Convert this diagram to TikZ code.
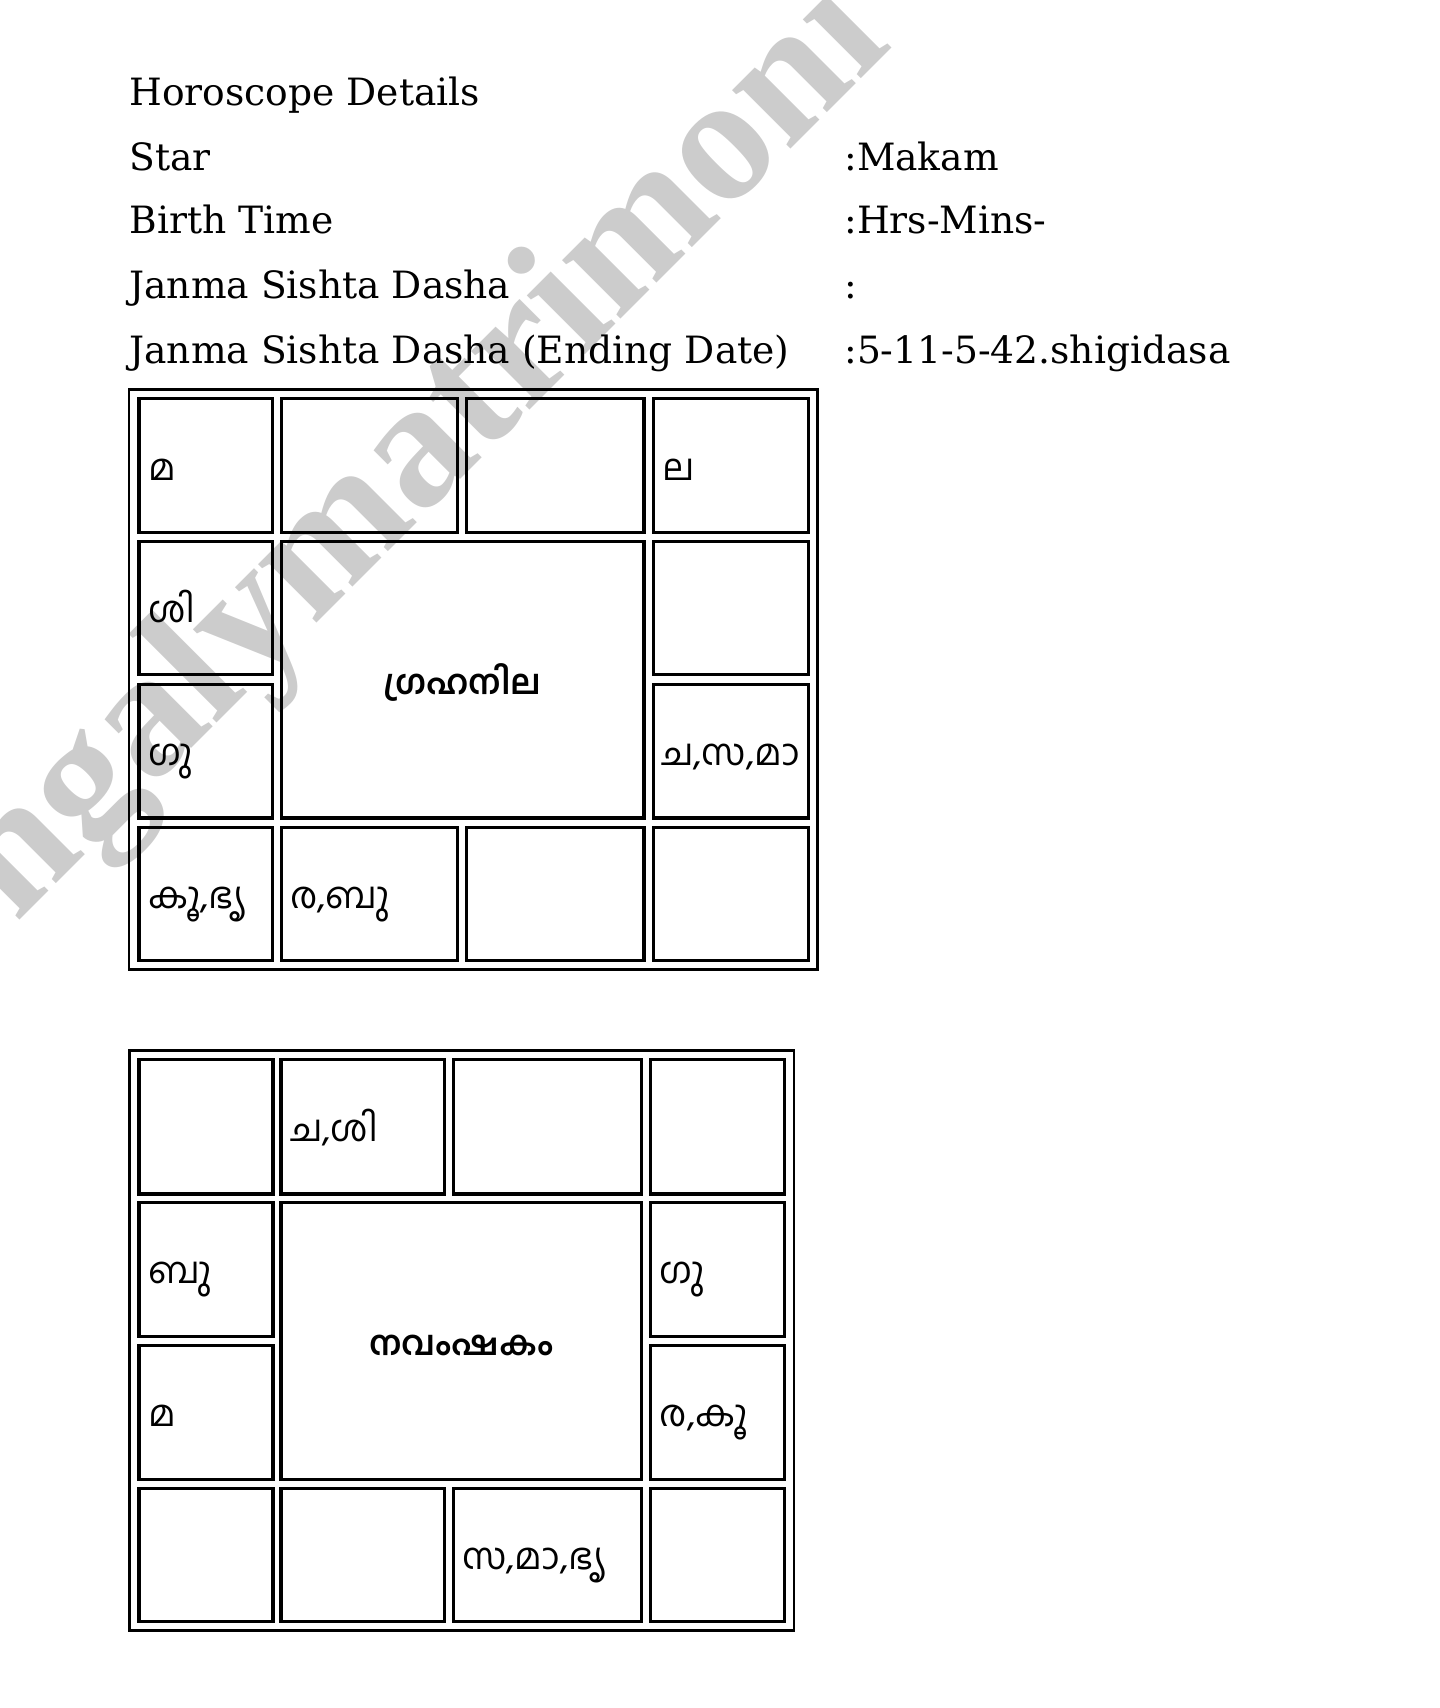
\documentclass[tikz,border=0pt]{standalone}
\usepackage{fontspec}
\setmainfont{DejaVu Serif}
\newfontfamily\malfont[Script=Malayalam]{Hind Kochi}
\newfontfamily\wmfont{Liberation Serif}
\usetikzlibrary{fit}
\definecolor{wmgray}{RGB}{204,204,204}
\tikzset{
  hdr/.style={anchor=base west, inner sep=0pt, font=\fontsize{18.8pt}{22pt}\selectfont},
  mal/.style={anchor=base west, inner sep=0pt, font=\malfont\fontsize{18.3pt}{22pt}\selectfont},
  maltitle/.style={anchor=base, inner sep=0pt, font=\malfont\bfseries\fontsize{17pt}{22pt}\selectfont},
  cellbox/.style={draw=black, line width=1.6pt, inner sep=0pt},
  tablebox/.style={draw=black, line width=1.2pt, inner sep=0pt},
  wm/.style={anchor=base east, inner sep=0pt, text=wmgray, font=\wmfont\bfseries\fontsize{90pt}{100pt}\selectfont}
}
\newcommand\cellbx[5]{\node[cellbox, fit={(#2,#3)(#4,#5)}] (#1) {};}
\begin{document}
\begin{tikzpicture}[x=0.5pt,y=-0.5pt]
\useasboundingbox (0,0) rectangle (1440,1708);
\clip (0,0) rectangle (1440,1708);
% watermark
\node[wm, rotate=45] (wmark) at (894,46) {ngalymatrimoni};
% header
\node[hdr] (h0) at (129,105) {Horoscope Details};
\node[hdr] (h1) at (129,170) {Star};
\node[hdr] (v1) at (844,170) {:Makam};
\node[hdr] (h2) at (129,233) {Birth Time};
\node[hdr] (v2) at (844,233) {:Hrs-Mins-};
\node[hdr] (h3) at (129,298) {Janma Sishta Dasha};
\node[hdr] (v3) at (844,298) {:};
\node[hdr] (h4) at (129,363) {Janma Sishta Dasha (Ending Date)};
\node[hdr] (v4) at (844,363) {:5-11-5-42.shigidasa};
% chart 1
\node[tablebox, fit={(129,389.3)(817.5,969.5)}] (T1) {};
\cellbx{a11}{139}{398.7}{272.3}{532.7}
\cellbx{a12}{281.3}{398.7}{457.7}{532.7}
\cellbx{a13}{466.8}{398.7}{644}{532.7}
\cellbx{a14}{653.3}{398.7}{808.7}{532.7}
\cellbx{a21}{139}{541.8}{272.3}{674.7}
\cellbx{a24}{653.3}{541.8}{808.7}{674.7}
\cellbx{a31}{139}{684.3}{272.3}{818}
\cellbx{a34}{653.3}{684.3}{808.7}{818}
\cellbx{a41}{139}{827.3}{272.3}{960.7}
\cellbx{a42}{281.3}{827.3}{457.7}{960.7}
\cellbx{a43}{466.8}{827.3}{644}{960.7}
\cellbx{a44}{653.3}{827.3}{808.7}{960.7}
\cellbx{ac}{281.3}{541.8}{644}{818}
\node[mal] (ta11) at (147.7,480.2) {മ};
\node[mal] (ta14) at (662,480.2) {ല};
\node[mal] (ta21) at (147.7,622.8) {ശി};
\node[mal] (ta31) at (147.7,765.7) {ഗു};
\node[mal] (ta34) at (661,765.7) {ച,സ,മാ};
\node[mal] (ta41) at (147.7,908.5) {കൂ,ഭൃ};
\node[mal] (ta42) at (290,908.5) {ര,ബു};
\node[maltitle] (tac) at (462.6,694.5) {ഗ്രഹനില};
% chart 2
\node[tablebox, fit={(129.3,1050.3)(793.7,1630.5)}] (T2) {};
\cellbx{b11}{139}{1059.7}{273}{1194}
\cellbx{b12}{281}{1059.7}{444.2}{1194}
\cellbx{b13}{453.3}{1059.7}{641.3}{1194}
\cellbx{b14}{650.7}{1059.7}{784.7}{1194}
\cellbx{b21}{139}{1202.7}{273}{1336.2}
\cellbx{b24}{650.7}{1202.7}{784.7}{1336.2}
\cellbx{b31}{139}{1345.3}{273}{1479.2}
\cellbx{b34}{650.7}{1345.3}{784.7}{1479.2}
\cellbx{b41}{139}{1488.3}{273}{1621.3}
\cellbx{b42}{281}{1488.3}{444.2}{1621.3}
\cellbx{b43}{453.3}{1488.3}{641.3}{1621.3}
\cellbx{b44}{650.7}{1488.3}{784.7}{1621.3}
\cellbx{bc}{281}{1202.7}{641.3}{1479.2}
\node[mal] (tb12) at (289.7,1141.3) {ച,ശി};
\node[mal] (tb21) at (147.7,1283.9) {ബു};
\node[mal] (tb24) at (659.3,1283.9) {ഗു};
\node[mal] (tb31) at (147.7,1426.8) {മ};
\node[mal] (tb34) at (659.3,1426.8) {ര,കൂ};
\node[mal] (tb43) at (462,1569.4) {സ,മാ,ഭൃ};
\node[maltitle] (tbc) at (461.2,1355.5) {നവംഷകം};
\end{tikzpicture}
\end{document}
